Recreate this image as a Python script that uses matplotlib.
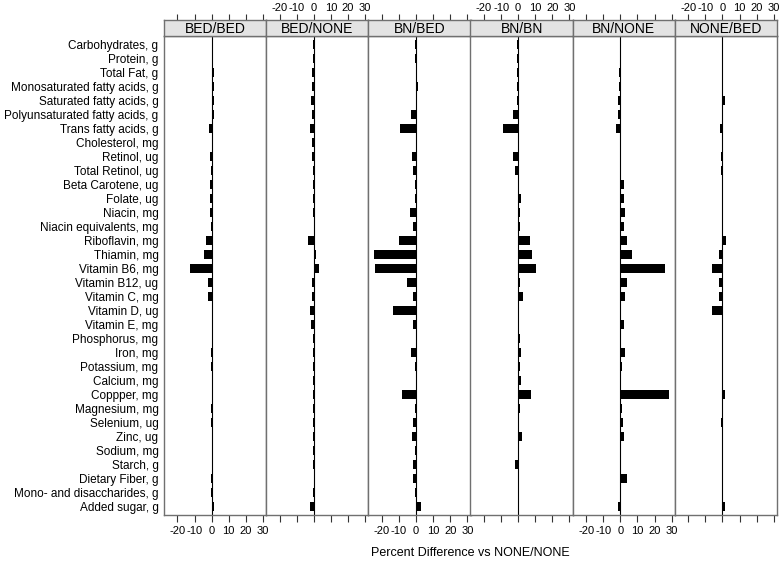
import matplotlib
matplotlib.use("Agg")
import matplotlib.pyplot as plt
import numpy as np

plt.rcParams['font.family'] = ['Liberation Sans', 'DejaVu Sans']

categories = [
    "Carbohydrates, g", "Protein, g", "Total Fat, g", "Monosaturated fatty acids, g",
    "Saturated fatty acids, g", "Polyunsaturated fatty acids, g", "Trans fatty acids, g",
    "Cholesterol, mg", "Retinol, ug", "Total Retinol, ug", "Beta Carotene, ug", "Folate, ug",
    "Niacin, mg", "Niacin equivalents, mg", "Riboflavin, mg", "Thiamin, mg", "Vitamin B6, mg",
    "Vitamin B12, ug", "Vitamin C, mg", "Vitamin D, ug", "Vitamin E, mg", "Phosphorus, mg",
    "Iron, mg", "Potassium, mg", "Calcium, mg", "Coppper, mg", "Magnesium, mg", "Selenium, ug",
    "Zinc, ug", "Sodium, mg", "Starch, g", "Dietary Fiber, g", "Mono- and disaccharides, g",
    "Added sugar, g",
]

panels = ["BED/BED", "BED/NONE", "BN/BED", "BN/BN", "BN/NONE", "NONE/BED"]

bed_bed = [0, 0, 1.3, 1.3, 1.4, 1.5, -1.5, 0, -1.0, -0.5, -0.7, -0.7, -0.7, -0.5,
           -3.3, -4.7, -12.7, -2.0, -2.4, 0, 0.8, 0, -0.5, -0.3, 0, 0.5, -0.3, -0.3,
           0, 0, 0, -0.3, -0.3, 1.6]
bed_none = [-0.5, -0.5, -1.0, -1.0, -1.4, -1.0, -2.3, -1.0, -1.0, -0.7, -0.7, -0.5, -0.3, 0.3,
            -3.5, 1.4, 3.0, -1.0, -1.0, -2.0, -1.4, -0.3, -0.3, -0.3, -0.2, -0.3, -0.3, -0.3,
            -0.3, -0.3, -0.3, 0, -0.3, -2.0]
bn_bed = [-0.7, -0.7, 0, 1.4, 0.5, -3.0, -9.2, 0, -2.4, -1.6, -0.5, -0.3, -3.3, -2.0,
          -10.0, -24.3, -24.0, -5.5, -1.6, -13.5, -1.6, -0.2, -3.0, -0.3, -0.2, -8.2, -0.3, -2.0,
          -2.5, -0.5, -2.0, -2.0, -0.3, 3.0]
bn_bn = [-0.7, -0.5, -0.7, -0.7, -0.8, -3.1, -8.8, 0, -3.1, -1.8, -0.3, 1.6, 1.0, 1.2,
         7.0, 8.0, 10.6, 0.8, 3.0, 0, 0, 1.2, 1.6, 1.2, 1.6, 7.8, 1.0, 0,
         2.0, 0, -1.6, 0, 0.5, 0]
bn_none = [0.5, 0.5, -0.5, -0.5, -1.4, -1.4, -2.4, 0.5, 0, 0.3, 2.2, 2.2, 2.5, 2.2,
           4.0, 6.7, 26.3, 4.0, 3.0, 0, 2.0, 0.5, 3.0, 1.0, 0.5, 28.4, 1.0, 1.6,
           2.0, 0.5, 0.5, 4.0, 0.5, -1.6]
none_bed = [-0.5, 0.3, 0.5, 0.5, 1.4, -0.3, -1.4, 0, -1.0, -1.0, -0.5, -0.5, -0.5, -0.5,
            1.8, -2.2, -6.3, -1.8, -1.8, -6.3, -0.5, 0, 0, -0.3, 0, 1.4, 0, -1.0,
            0, -0.3, -0.3, -0.3, 0, 1.4]

values = [bed_bed, bed_none, bn_bed, bn_bn, bn_none, none_bed]
xticks = [-20, -10, 0, 10, 20, 30]

W, H = 781, 564
fig = plt.figure(figsize=(W / 100, H / 100), dpi=100)

left_px, right_px = 164, 777
top_px, bot_px = 36, 515
strip_h = 16
pw = (right_px - left_px) / 6.0
xlim = (-27.9, 31.9)
border = '#707070'
y = np.arange(len(categories))

for i, (name, vals) in enumerate(zip(panels, values)):
    x0 = (left_px + i * pw) / W
    ax = fig.add_axes([x0, (H - bot_px) / H, pw / W, (bot_px - top_px) / H])
    ax.barh(y, vals, height=0.65, color='black', linewidth=0)
    ax.axvline(0, color='black', linewidth=0.8)
    ax.set_xlim(*xlim)
    ax.set_ylim(len(categories) - 1 + 0.6, -0.6)
    for s in ax.spines.values():
        s.set_color(border)
        s.set_linewidth(1.0)
    ax.set_xticks(xticks)
    ax.tick_params(axis='x', direction='out', length=5, width=0.8, color='#333333',
                   labelsize=8, pad=3)
    if i % 2 == 0:
        ax.set_xticklabels([str(t) for t in xticks])
    else:
        ax.set_xticklabels([])
    if i == 0:
        ax.set_yticks(y)
        ax.set_yticklabels(categories, fontsize=8.5)
        ax.tick_params(axis='y', length=0, pad=4)
    else:
        ax.set_yticks([])

    sax = fig.add_axes([x0, (H - top_px) / H, pw / W, strip_h / H])
    sax.set_facecolor('#e3e3e3')
    sax.set_xlim(*xlim)
    sax.set_ylim(0, 1)
    sax.set_yticks([])
    for s in sax.spines.values():
        s.set_color(border)
        s.set_linewidth(1.0)
    sax.text(0.5, 0.45, name, transform=sax.transAxes, ha='center', va='center',
             fontsize=10)
    sax.xaxis.set_ticks_position('top')
    sax.set_xticks(xticks)
    sax.tick_params(axis='x', direction='out', length=4.5, width=0.8, color='#333333',
                    labelsize=8, pad=0.8, top=True, bottom=False,
                    labeltop=(i % 2 == 1), labelbottom=False)
    if i % 2 == 1:
        sax.set_xticklabels([str(t) for t in xticks])

fig.text((left_px + right_px) / 2 / W, (H - 553) / H, "Percent Difference vs NONE/NONE",
         ha='center', va='center', fontsize=9)

fig.savefig("out.png", dpi=100)
